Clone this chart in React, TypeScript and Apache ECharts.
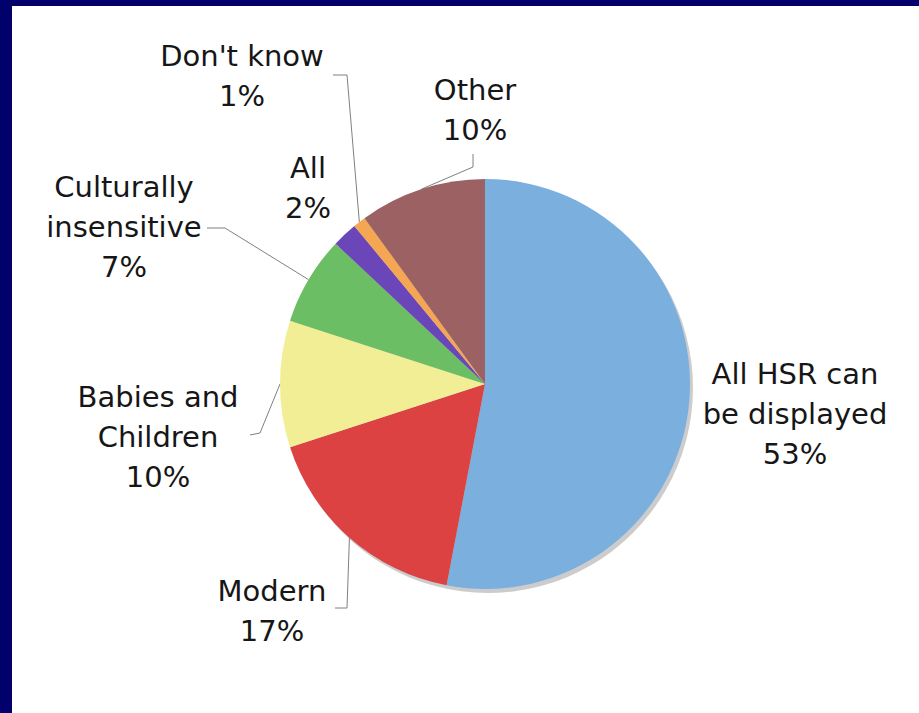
import React, { useEffect, useRef } from "react";
import * as echarts from "echarts";

// ---- data ----
const categories = [
  "All HSR can\nbe displayed",
  "Modern",
  "Babies and\nChildren",
  "Culturally\ninsensitive",
  "All",
  "Don't know",
  "Other",
];
const percentages = [53, 17, 10, 7, 2, 1, 10];
const sliceColors = ["#7BAFDE", "#DD4242", "#F2EE96", "#6BBE63", "#6A46B8", "#F5A653", "#9C6263"];

// ---- layout (label block centres and leader-line offsets from them) ----
type Placement = { x: number; y: number; line: null | { bend: number[]; end: number[] } };
const labelPlacement: Placement[] = [
  { x: 795, y: 414, line: null },
  { x: 272, y: 611, line: { bend: [75, -3], end: [63, -3] } },
  { x: 158, y: 437, line: { bend: [102, -4], end: [92, -2] } },
  { x: 124, y: 227, line: { bend: [101, 1], end: [83, 1] } },
  { x: 308, y: 188, line: null },
  { x: 242, y: 76, line: { bend: [105, -1], end: [91, -1] } },
  { x: 475, y: 110, line: { bend: [-2, 57], end: [-2, 44] } },
];

const PIE_CENTER = [485, 384];
const PIE_RADIUS = 205;
const FRAME = "#02006A";

export default function App() {
  const ref = useRef<HTMLDivElement>(null);

  useEffect(() => {
    if (!ref.current) return;
    const chart = echarts.init(ref.current, undefined, { renderer: "svg" });
    const total = percentages.reduce((a, b) => a + b, 0);

    chart.setOption({
      animation: false,
      backgroundColor: "#ffffff",
      graphic: [
        { type: "rect", shape: { x: 0, y: 0, width: 919, height: 6 }, style: { fill: FRAME }, silent: true },
        { type: "rect", shape: { x: 0, y: 0, width: 12, height: 713 }, style: { fill: FRAME }, silent: true },
      ],
      series: [
        {
          type: "pie",
          silent: true,
          z: 1,
          center: [PIE_CENTER[0] + 3, PIE_CENTER[1] + 4],
          radius: PIE_RADIUS,
          label: { show: false },
          labelLine: { show: false },
          itemStyle: { color: "#cccccc" },
          data: [{ value: total, name: "shadow" }],
        },
        {
          type: "pie",
          z: 2,
          center: PIE_CENTER,
          radius: PIE_RADIUS,
          startAngle: 90,
          clockwise: true,
          avoidLabelOverlap: false,
          itemStyle: { borderWidth: 0 },
          emphasis: { disabled: true },
          label: {
            show: true,
            position: "outside",
            formatter: "{b}\n{c}%",
            fontFamily: "DejaVu Sans",
            fontSize: 29,
            lineHeight: 40,
            color: "#161616",
            align: "center",
          },
          labelLine: {
            show: true,
            smooth: false,
            lineStyle: { color: "#808080", width: 1 },
          },
          labelLayout: (params: any) => {
            const p = labelPlacement[params.dataIndex];
            const out: any = { x: p.x, y: p.y, align: "center", verticalAlign: "middle" };
            if (p.line && params.labelLinePoints) {
              const start = params.labelLinePoints[0];
              out.labelLinePoints = [
                [start[0], start[1]],
                [p.x + p.line.bend[0], p.y + p.line.bend[1]],
                [p.x + p.line.end[0], p.y + p.line.end[1]],
              ];
            }
            return out;
          },
          data: categories.map((name, i) => ({
            name,
            value: percentages[i],
            itemStyle: { color: sliceColors[i] },
            labelLine: { show: labelPlacement[i].line !== null },
          })),
        },
      ],
    });

    return () => chart.dispose();
  }, []);

  return (
    <div
      ref={ref}
      style={{ position: "fixed", left: 0, top: 0, width: 919, height: 713, background: "#fff" }}
    />
  );
}
